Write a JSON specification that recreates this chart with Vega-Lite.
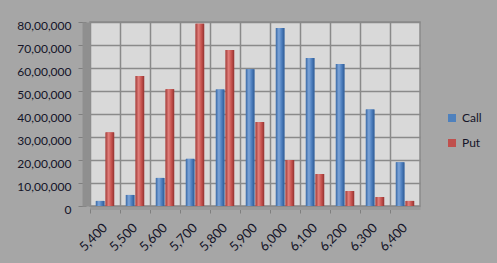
{
  "$schema": "https://vega.github.io/schema/vega-lite/v6.json",
  "width": 330,
  "height": 184,
  "autosize": {"type": "none"},
  "padding": {"left": 90, "top": 22, "right": 77, "bottom": 57},
  "background": "#a6a6a6",
  "config": {
    "view": {"fill": "#d9d9d9", "stroke": "#8a8a8a", "strokeWidth": 1.5},
    "font": "Lato",
    "axis": {"labelFont": "Lato", "labelFontSize": 12, "labelColor": "#141428", "title": null}
  },
  "data": {
    "values": [
      {"strike": "5,400", "series": "Call", "value": 220000},
      {"strike": "5,400", "series": "Put", "value": 3200000},
      {"strike": "5,500", "series": "Call", "value": 480000},
      {"strike": "5,500", "series": "Put", "value": 5650000},
      {"strike": "5,600", "series": "Call", "value": 1220000},
      {"strike": "5,600", "series": "Put", "value": 5080000},
      {"strike": "5,700", "series": "Call", "value": 2050000},
      {"strike": "5,700", "series": "Put", "value": 7920000},
      {"strike": "5,800", "series": "Call", "value": 5060000},
      {"strike": "5,800", "series": "Put", "value": 6780000},
      {"strike": "5,900", "series": "Call", "value": 5950000},
      {"strike": "5,900", "series": "Put", "value": 3650000},
      {"strike": "6,000", "series": "Call", "value": 7740000},
      {"strike": "6,000", "series": "Put", "value": 2000000},
      {"strike": "6,100", "series": "Call", "value": 6430000},
      {"strike": "6,100", "series": "Put", "value": 1390000},
      {"strike": "6,200", "series": "Call", "value": 6170000},
      {"strike": "6,200", "series": "Put", "value": 650000},
      {"strike": "6,300", "series": "Call", "value": 4200000},
      {"strike": "6,300", "series": "Put", "value": 390000},
      {"strike": "6,400", "series": "Call", "value": 1900000},
      {"strike": "6,400", "series": "Put", "value": 220000}
    ]
  },
  "encoding": {
    "x": {
      "field": "strike",
      "type": "nominal",
      "sort": null,
      "scale": {"paddingInner": 0, "paddingOuter": 0},
      "axis": {
        "bandPosition": 0,
        "grid": true,
        "gridColor": "#8a8a8a",
        "gridWidth": 1.5,
        "labelAngle": -45,
        "labelFontSize": 13,
        "labelOffset": -4,
        "labelPadding": 8,
        "offset": 2,
        "domainColor": "#9a9a9a",
        "domainWidth": 3,
        "tickColor": "#7f7f7f",
        "tickSize": 5
      }
    },
    "xOffset": {
      "field": "series",
      "type": "nominal",
      "scale": {"paddingInner": 0.12, "paddingOuter": 0.6}
    },
    "y": {
      "field": "value",
      "type": "quantitative",
      "scale": {"domain": [0, 8000000], "nice": false},
      "axis": {
        "values": [0, 1000000, 2000000, 3000000, 4000000, 5000000, 6000000, 7000000, 8000000],
        "labelExpr": "datum.value == 0 ? '0' : format(datum.value / 100000, 'd') + ',00,000'",
        "grid": true,
        "gridColor": "#8a8a8a",
        "gridWidth": 1.5,
        "offset": 4,
        "domainColor": "#8f8f8f",
        "domainWidth": 8,
        "tickColor": "#7f7f7f",
        "tickSize": 8,
        "labelPadding": 7,
        "labelOffset": 3
      }
    }
  },
  "layer": [
    {
      "mark": {"type": "bar"},
      "encoding": {
        "color": {
          "field": "series",
          "type": "nominal",
          "scale": {"domain": ["Call", "Put"], "range": ["#4f81bd", "#c0504d"]},
          "legend": {
            "title": null,
            "orient": "none",
            "legendX": 356,
            "legendY": 90,
            "padding": 0,
            "symbolType": "square",
            "symbolSize": 64,
            "symbolStrokeWidth": 0,
            "labelFont": "Lato",
            "labelFontSize": 12,
            "labelColor": "#141428",
            "rowPadding": 13,
            "labelOffset": 4
          }
        }
      }
    },
    {
      "transform": [{"filter": "datum.series == 'Call'"}],
      "mark": {
        "type": "bar",
        "color": {
          "gradient": "linear",
          "x1": 0, "y1": 0, "x2": 1, "y2": 0,
          "stops": [
            {"offset": 0, "color": "#3b6aa6"},
            {"offset": 0.35, "color": "#7ea6da"},
            {"offset": 0.7, "color": "#4a7cbc"},
            {"offset": 1, "color": "#2f5b94"}
          ]
        }
      }
    },
    {
      "transform": [{"filter": "datum.series == 'Put'"}],
      "mark": {
        "type": "bar",
        "color": {
          "gradient": "linear",
          "x1": 0, "y1": 0, "x2": 1, "y2": 0,
          "stops": [
            {"offset": 0, "color": "#a33d3a"},
            {"offset": 0.35, "color": "#e07e7a"},
            {"offset": 0.7, "color": "#c4504c"},
            {"offset": 1, "color": "#933331"}
          ]
        }
      }
    }
  ]
}
